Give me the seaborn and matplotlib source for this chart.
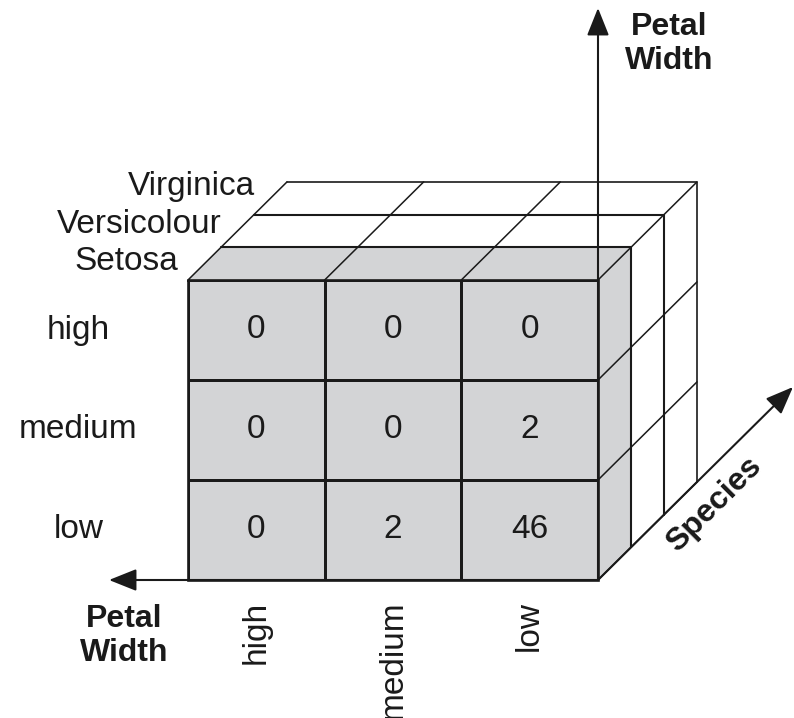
import numpy as np
import pandas as pd
import matplotlib
matplotlib.use("Agg")
import matplotlib.pyplot as plt
from matplotlib.colors import ListedColormap
from matplotlib.patches import Polygon, FancyArrowPatch, ArrowStyle
import seaborn as sns

# ---------------- data ----------------
row_labels = ["high", "medium", "low"]          # petal width (vertical)
col_labels = ["high", "medium", "low"]          # petal width (horizontal)
species = ["Setosa", "Versicolour", "Virginica"]
setosa_counts = [[0, 0, 0],
                 [0, 0, 2],
                 [0, 2, 46]]
axis_title = "Petal\nWidth"
depth_title = "Species"

# ---------------- style ----------------
sns.set_theme(style="white")
plt.rcParams["font.family"] = ["Liberation Sans", "DejaVu Sans"]
INK = "#1a1a1a"
GRAY = "#d3d4d6"
W, H = 794, 718
fig = plt.figure(figsize=(W / 100, H / 100), dpi=100)

# front-face geometry (pixels)
FX0, FX1, FY0, FY1 = 188, 598, 280, 580
DX, DY = 33, 32.7
nr, nc, nd = len(row_labels), len(col_labels), len(species)

# heatmap for the front (Setosa) face
hax = fig.add_axes([FX0 / W, 1 - FY1 / H, (FX1 - FX0) / W, (FY1 - FY0) / H])
df = pd.DataFrame(setosa_counts, index=row_labels, columns=col_labels)
sns.heatmap(df, ax=hax, cmap=ListedColormap([GRAY]), cbar=False, annot=True, fmt="d",
            annot_kws={"fontsize": 24, "color": INK},
            linewidths=1.9, linecolor=INK, square=False)
hax.tick_params(axis="y", length=0, pad=79, labelsize=24, labelcolor=INK, rotation=0)
hax.tick_params(axis="x", length=0, pad=15, labelsize=24, labelcolor=INK, rotation=90)
for t in hax.get_yticklabels():
    t.set_ha("center")
for t in hax.get_xticklabels():
    t.set_va("top")
hax.set_xlabel("")
hax.set_ylabel("")

# overlay axes in pixel coordinates for the cube
ax = fig.add_axes([0, 0, 1, 1], zorder=5)
ax.set_xlim(0, W)
ax.set_ylim(H, 0)
ax.axis("off")
ax.patch.set_alpha(0)

colx = [FX0 + i * (FX1 - FX0) / nc for i in range(nc + 1)]
rowy = [FY0 + j * (FY1 - FY0) / nr for j in range(nr + 1)]

# gray top/right faces of the front layer
ax.add_patch(Polygon([(FX0, FY0), (FX1, FY0), (FX1 + DX, FY0 - DY), (FX0 + DX, FY0 - DY)],
                     closed=True, facecolor=GRAY, edgecolor="none", zorder=1))
ax.add_patch(Polygon([(FX1, FY0), (FX1 + DX, FY0 - DY), (FX1 + DX, FY1 - DY), (FX1, FY1)],
                     closed=True, facecolor=GRAY, edgecolor="none", zorder=1))

# front border
ax.plot([FX0, FX1, FX1, FX0, FX0], [FY0, FY0, FY1, FY1, FY0], color=INK, lw=1.9,
        solid_joinstyle="miter", zorder=3)

# layer lines on top and right faces
for k in range(1, nd + 1):
    lw = 1.5 if k < nd else 1.2
    ax.plot([FX0 + k * DX, FX1 + k * DX, FX1 + k * DX],
            [FY0 - k * DY, FY0 - k * DY, FY1 - k * DY], color=INK, lw=lw, zorder=3)
# depth diagonals on top face
for x in colx:
    ax.plot([x, x + nd * DX], [FY0, FY0 - nd * DY], color=INK, lw=1.1, zorder=3)
# depth diagonals on right face
for y in rowy[1:]:
    ax.plot([FX1, FX1 + nd * DX], [y, y - nd * DY], color=INK, lw=1.1, zorder=3)


def arrow(p0, p1):
    a = FancyArrowPatch(p0, p1, arrowstyle=ArrowStyle("-|>", head_length=17, head_width=6.8),
                        mutation_scale=1, lw=1.5, color=INK, shrinkA=0, shrinkB=0, zorder=4)
    ax.add_patch(a)


arrow((FX1, FY1), (FX1, 8))
arrow((FX1, FY1), (109, FY1))
arrow((FX1, FY1), (793, 387))

# species labels
spec_pos = [(178, 270), (222, 233), (255, 195)]
for name, (x, y) in zip(species, spec_pos):
    ax.text(x, y, name, ha="right", va="baseline", fontsize=24, color=INK, zorder=6)

# axis titles
ax.text(669, 44, axis_title, ha="center", va="center", fontsize=23, fontweight="bold",
        color=INK, linespacing=1.15, zorder=6)
ax.text(124, 636, axis_title, ha="center", va="center", fontsize=23, fontweight="bold",
        color=INK, linespacing=1.15, zorder=6)
ax.text(714, 505, depth_title, ha="center", va="center", fontsize=23, fontweight="bold",
        color=INK, rotation=45, rotation_mode="anchor", zorder=6)

fig.savefig("out.png", dpi=100, facecolor="white")
